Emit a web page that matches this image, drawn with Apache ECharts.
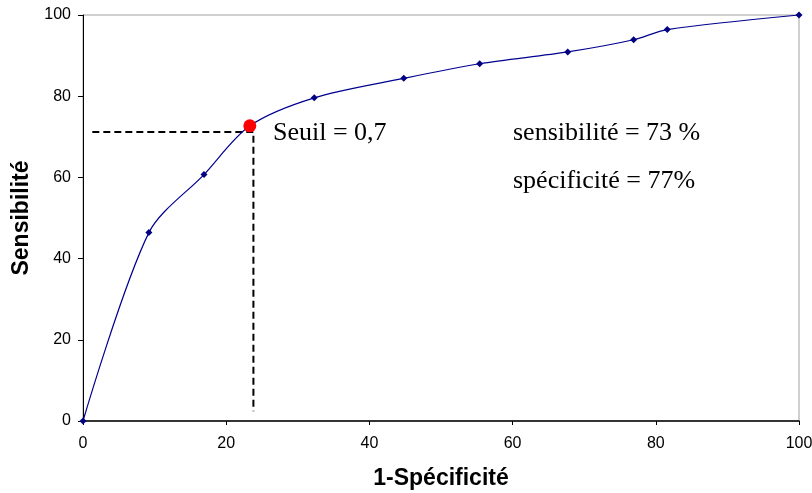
<!DOCTYPE html>
<html><head><meta charset="utf-8">
<script src="https://cdn.jsdelivr.net/npm/echarts@6/dist/echarts.min.js"></script>
<style>html,body{margin:0;padding:0;background:#fff}#c{width:812px;height:493px}</style>
</head><body><div id="c"></div>
<script>
const fpr = [0, 9.2, 16.9, 23.3, 32.3, 44.8, 55.4, 67.7, 76.9, 81.6, 100];
const sens = [0, 46.4, 60.7, 72.7, 79.6, 84.4, 88.0, 90.9, 93.9, 96.4, 100];
const xTicks = [0, 20, 40, 60, 80, 100];
const yTicks = [0, 20, 40, 60, 80, 100];
const thresholdPoint = [23.3, 72.7];
const guideX = [1.3, 23.8, 23.8];
const guideY = [71.2, 71.2, 2.4];
const annotations = ["Seuil = 0,7", "sensibilité = 73 %", "spécificité = 77%"];

const chart = echarts.init(document.getElementById('c'), null, {renderer: 'canvas'});
const serif = '"Liberation Serif","Times New Roman",serif';
const sans = '"Liberation Sans",Arial,sans-serif';
chart.setOption({
  animation: false,
  backgroundColor: '#fff',
  grid: {left: 83, right: 13, top: 15, bottom: 72, containLabel: false, outerBoundsMode: 'none',
         show: true, borderColor: '#a0a0a0', borderWidth: 1},
  xAxis: {
    type: 'value', min: xTicks[0], max: xTicks[xTicks.length-1], interval: 20,
    name: '1-Spécificité', nameLocation: 'middle', nameGap: 46,
    nameTextStyle: {fontFamily: sans, fontWeight: 'bold', fontSize: 23, color: '#000'},
    axisLine: {lineStyle: {color: '#000', width: 1.5}},
    axisTick: {show: true, length: 4, lineStyle: {color: '#000'}},
    axisLabel: {fontFamily: sans, fontSize: 16, color: '#000', margin: 15},
    splitLine: {show: false}
  },
  yAxis: {
    type: 'value', min: yTicks[0], max: yTicks[yTicks.length-1], interval: 20,
    name: 'Sensibilité', nameLocation: 'middle', nameGap: 49, nameRotate: 90,
    nameTextStyle: {fontFamily: sans, fontWeight: 'bold', fontSize: 23, color: '#000'},
    axisLine: {lineStyle: {color: '#000', width: 1}},
    axisTick: {show: true, length: 5, lineStyle: {color: '#000'}},
    axisLabel: {fontFamily: sans, fontSize: 16, color: '#000', margin: 12},
    splitLine: {show: false}
  },
  series: [
    {
      type: 'line', data: guideX.map((x, i) => [x, guideY[i]]),
      symbol: 'none', lineStyle: {color: '#000', width: 2, type: [7, 4]}, z: 1
    },
    {
      type: 'line', data: fpr.map((x, i) => [x, sens[i]]), smooth: 0.3,
      symbol: 'diamond', symbolSize: 7,
      itemStyle: {color: '#000080'},
      lineStyle: {color: '#000090', width: 1.2}, z: 2
    },
    {
      type: 'scatter', data: [thresholdPoint], symbol: 'circle', symbolSize: 13,
      itemStyle: {color: '#ff0000', opacity: 1}, z: 10, zlevel: 1
    }
  ],
  graphic: [
    {type: 'text', x: 273, y: 133, style: {text: annotations[0], font: '26px ' + serif, fill: '#000', verticalAlign: 'middle', align: 'left'}},
    {type: 'text', x: 513, y: 133, style: {text: annotations[1], font: '26px ' + serif, fill: '#000', verticalAlign: 'middle', align: 'left'}},
    {type: 'text', x: 513, y: 181, style: {text: annotations[2], font: '26px ' + serif, fill: '#000', verticalAlign: 'middle', align: 'left'}}
  ]
});
</script></body></html>
